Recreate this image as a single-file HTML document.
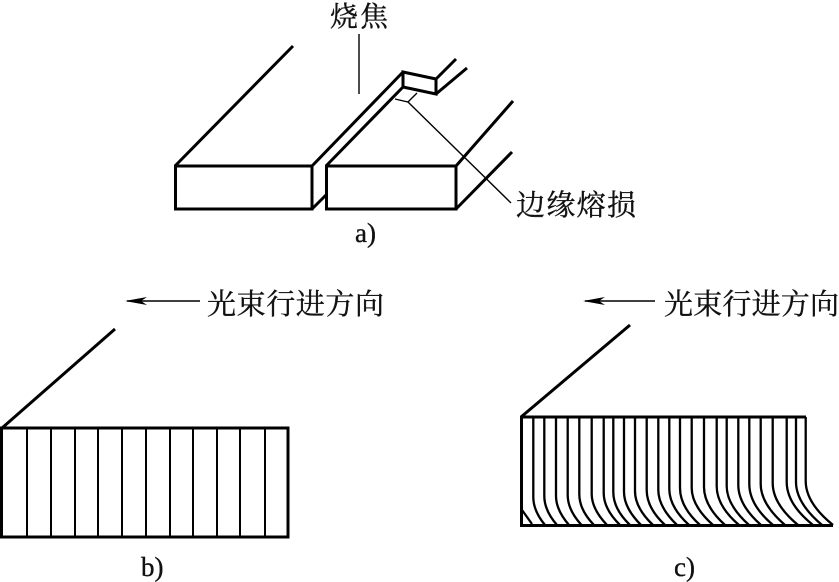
<!DOCTYPE html>
<html>
<head>
<meta charset="utf-8">
<style>
html,body{margin:0;padding:0;background:#fff;}
svg{display:block;}
text{font-family:"Liberation Serif","Noto Serif CJK SC",serif;fill:#111;stroke:#111;stroke-width:.35;}
</style>
</head>
<body>
<svg width="839" height="582" viewBox="0 0 839 582" xmlns="http://www.w3.org/2000/svg">
<g fill="none" stroke="#000" stroke-width="3">
  <!-- panel a -->
  <rect x="175.5" y="166" width="136.5" height="43"/>
  <rect x="326.5" y="166" width="129.5" height="43"/>
  <path d="M175 166L293 46"/>
  <path d="M312 166L403 72"/>
  <path d="M326 166L403 87"/>
  <path d="M312 209L326 195"/>
  <path d="M403 72L436 79V94L403 87Z"/>
  <path d="M436 79L456 59"/>
  <path d="M436 94L467 68"/>
  <path d="M456 166L513 101"/>
  <path d="M456 209L512 152"/>
  <!-- panel b -->
  <rect x="1.5" y="428" width="286.5" height="109"/>
  <path d="M2 428L115 329"/>
</g>
<g fill="none" stroke="#000" stroke-width="2">
  <path d="M27 428V537M51 428V537M75 428V537M98 428V537M122 428V537M146 428V537M170 428V537M193 428V537M217 428V537M240 428V537M265 428V537"/>
</g>
<g fill="none" stroke="#000" stroke-width="1.4">
  <path d="M359 34V94"/>
  <path d="M395 99L408 102L417 93"/>
  <path d="M408 102L511 203"/>
  <path d="M127 301H200"/>
  <path d="M585 301H655"/>
</g>
<path d="M125 301L147 297L141 301L147 305Z" fill="#000"/>
<path d="M583 301L605 297L599 301L605 305Z" fill="#000"/>
<!-- panel c -->
<g fill="none" stroke="#000" stroke-width="3">
  <path d="M521 417H806"/>
  <path d="M521 525.5H833"/>
  <path d="M521.5 416V527"/>
  <path d="M630 325L521 417"/>
</g>
<g fill="none" stroke="#000" stroke-width="2.3">
  <path d="M522 510L532 524"/>
  <path d="M533.3 417V497Q533.3 511 545 525"/>
  <path d="M544.3 417V496Q544.3 510.5 557 525"/>
  <path d="M556 417V496Q556 510 569 525"/>
  <path d="M567.7 417V495Q567.7 510 581.5 525"/>
  <path d="M579.3 417V494Q579.3 510 594 525"/>
  <path d="M591.7 417V494Q591.7 509 607 525"/>
  <path d="M603.7 417V493Q603.7 509 620 525"/>
  <path d="M613.3 417V492Q613.3 509 630 525"/>
  <path d="M624 417V492Q624 508 641 525"/>
  <path d="M635 417V491Q635 508 653 525"/>
  <path d="M646.7 417V490Q646.7 508 665 525"/>
  <path d="M658.3 417V490Q658.3 507 677 525"/>
  <path d="M669.3 417V489Q669.3 507 689 525"/>
  <path d="M680 417V488Q680 507 700 525"/>
  <path d="M691.7 417V488Q691.7 506 713 525"/>
  <path d="M704 417V487Q704 506 725 525"/>
  <path d="M716.7 417V486Q716.7 506 739 525"/>
  <path d="M726.7 417V486Q726.7 505 749 525"/>
  <path d="M738.3 417V485Q738.3 505 761 525"/>
  <path d="M749.3 417V484Q749.3 505 773 525"/>
  <path d="M760.7 417V484Q760.7 504 785 525"/>
  <path d="M772.7 417V483Q772.7 504 798 525"/>
  <path d="M786.7 417V482Q786.7 504 813 525"/>
  <path d="M796 417V482Q796 503 822 525"/>
  <path d="M805.7 417V481Q805.7 503 833 525"/>
</g>
<!-- labels -->
<text x="330" y="26" font-size="28" textLength="58" lengthAdjust="spacing">烧焦</text>
<text x="516" y="215" font-size="29" textLength="120" lengthAdjust="spacing">边缘熔损</text>
<text x="207" y="314" font-size="29" textLength="177" lengthAdjust="spacing">光束行进方向</text>
<text x="664" y="314" font-size="29" textLength="175" lengthAdjust="spacing">光束行进方向</text>
<text x="355" y="242" font-size="27">a)</text>
<text x="141" y="576" font-size="27">b)</text>
<text x="674" y="576" font-size="27">c)</text>
</svg>
</body>
</html>
